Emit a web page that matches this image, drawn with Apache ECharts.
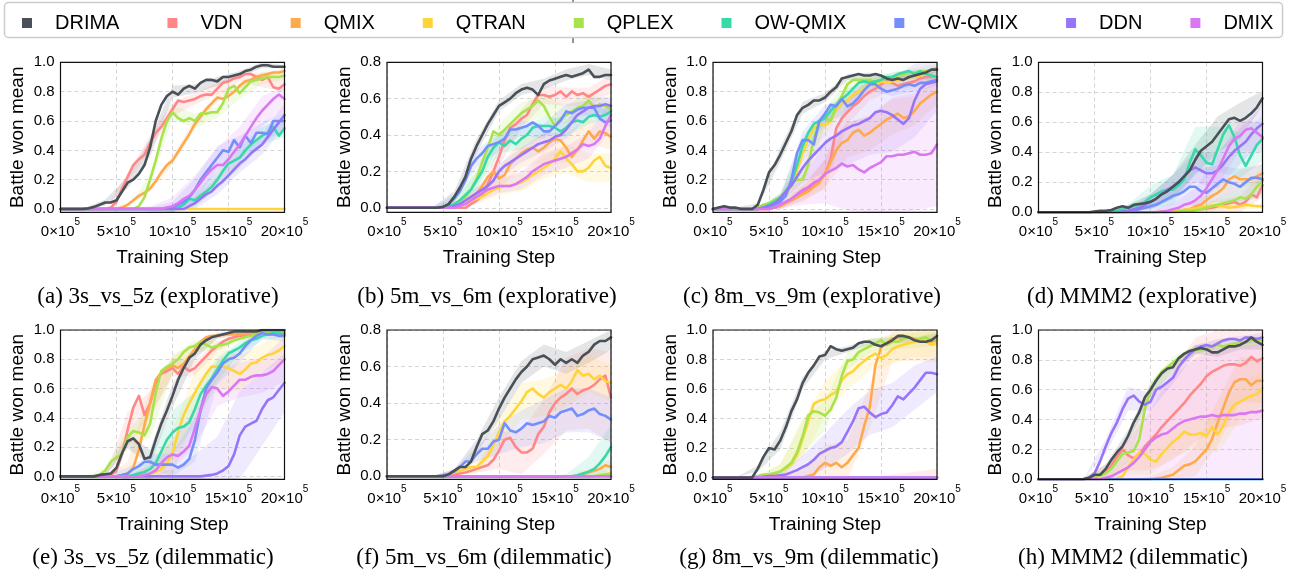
<!DOCTYPE html>
<html><head><meta charset="utf-8">
<script src="https://cdn.jsdelivr.net/npm/echarts@6/dist/echarts.min.js"></script>
<style>html,body{margin:0;padding:0;background:#fff}#c{width:1295px;height:577px}</style>
</head><body><div id="c"></div>
<script>
// ---------------- data ----------------
const methods = ['DRIMA','VDN','QMIX','QTRAN','QPLEX','OW-QMIX','CW-QMIX','DDN','DMIX'];
const colors = ['#495057','#ff8787','#ffa94d','#ffd43b','#a9e34b','#38d9a9','#748ffc','#9775fa','#da77f2'];
// training step in units of 10^5
const steps = [0,0.5,1,1.5,2,2.5,3,3.5,4,4.5, 5,5.5,6,6.5,7,7.5,8,8.5,9,9.5, 10,10.5,11,11.5,12,12.5,13,13.5,14,14.5, 15,15.5,16,16.5,17,17.5,18,18.5,19,19.5, 20];
const bandSteps = [0,2,4,6,8,10,12,14,16,18,20];
const xTicks = [0,5,10,15,20];
const yTicks10 = [0,0.2,0.4,0.6,0.8,1.0];
const yTicks08 = [0,0.2,0.4,0.6,0.8];
const panelTitles = ['(a) 3s_vs_5z (explorative)','(b) 5m_vs_6m (explorative)','(c) 8m_vs_9m (explorative)','(d) MMM2 (explorative)',
                     '(e) 3s_vs_5z (dilemmatic)','(f) 5m_vs_6m (dilemmatic)','(g) 8m_vs_9m (dilemmatic)','(h) MMM2 (dilemmatic)'];
const Z41 = [0,0,0,0,0,0,0,0,0,0, 0,0,0,0,0,0,0,0,0,0, 0,0,0,0,0,0,0,0,0,0, 0,0,0,0,0,0,0,0,0,0, 0];

// rows: DRIMA, VDN, QMIX, QTRAN, QPLEX, OW-QMIX, CW-QMIX, DDN, DMIX
const exp_3s5z = [
 [0,0,0,0,0,0.005,0.015,0.03,0.045,0.045, 0.06,0.12,0.18,0.2,0.24,0.3,0.42,0.6,0.71,0.77, 0.8,0.78,0.82,0.84,0.82,0.86,0.88,0.88,0.87,0.9, 0.9,0.91,0.92,0.94,0.95,0.97,0.98,0.98,0.97,0.97, 0.97],
 [0,0,0,0,0,0,0,0,0,0.01, 0.05,0.14,0.22,0.3,0.34,0.37,0.45,0.52,0.56,0.62, 0.68,0.74,0.73,0.74,0.75,0.77,0.78,0.78,0.82,0.86, 0.87,0.89,0.9,0.92,0.92,0.9,0.88,0.9,0.83,0.82, 0.85],
 [0,0,0,0,0,0,0,0,0,0, 0,0.01,0.03,0.06,0.09,0.11,0.14,0.19,0.25,0.3, 0.33,0.39,0.45,0.51,0.58,0.63,0.68,0.72,0.76,0.75, 0.77,0.8,0.84,0.87,0.88,0.9,0.91,0.92,0.93,0.93, 0.94],
 Z41,
 [0,0,0,0,0,0,0,0,0,0, 0,0,0,0,0.02,0.08,0.2,0.33,0.48,0.6, 0.66,0.62,0.6,0.62,0.6,0.65,0.65,0.66,0.66,0.72, 0.82,0.84,0.79,0.83,0.87,0.88,0.89,0.9,0.9,0.9, 0.91],
 [0,0,0,0,0,0,0,0,0,0, 0,0,0,0,0,0,0,0,0,0, 0,0.01,0.03,0.07,0.06,0.09,0.12,0.15,0.2,0.26, 0.31,0.33,0.35,0.4,0.44,0.47,0.5,0.52,0.56,0.5, 0.55],
 [0,0,0,0,0,0,0,0,0,0, 0,0,0,0,0,0,0,0,0,0.005, 0.01,0.03,0.05,0.08,0.13,0.2,0.25,0.3,0.35,0.4, 0.39,0.47,0.42,0.5,0.45,0.52,0.52,0.51,0.6,0.6, 0.6],
 [0,0,0,0,0,0,0,0,0,0, 0,0,0,0,0,0,0,0,0,0, 0,0,0,0.02,0.04,0.07,0.1,0.12,0.16,0.19, 0.23,0.27,0.31,0.34,0.38,0.41,0.44,0.49,0.54,0.59, 0.64],
 [0,0,0,0,0,0,0,0,0,0, 0,0,0,0,0,0,0,0,0,0.01, 0.02,0.04,0.07,0.09,0.13,0.18,0.23,0.27,0.3,0.3, 0.34,0.39,0.44,0.5,0.56,0.62,0.67,0.71,0.75,0.78, 0.75]
];
const exp_5m6m = [
 [0,0,0,0,0,0,0,0,0,0, 0.005,0.02,0.06,0.11,0.17,0.27,0.34,0.4,0.46,0.51, 0.56,0.58,0.6,0.63,0.65,0.66,0.65,0.62,0.68,0.7, 0.71,0.72,0.73,0.72,0.73,0.74,0.76,0.72,0.72,0.73, 0.73],
 [0,0,0,0,0,0,0,0,0,0, 0,0,0,0,0,0.02,0.04,0.07,0.13,0.2, 0.28,0.37,0.44,0.46,0.49,0.51,0.57,0.62,0.62,0.61, 0.62,0.64,0.61,0.64,0.62,0.63,0.61,0.63,0.65,0.67, 0.68],
 [0,0,0,0,0,0,0,0,0,0, 0,0,0,0.01,0.03,0.05,0.08,0.12,0.17,0.2, 0.16,0.18,0.24,0.27,0.3,0.32,0.33,0.31,0.33,0.36, 0.38,0.37,0.33,0.28,0.32,0.37,0.42,0.38,0.42,0.41, 0.39],
 [0,0,0,0,0,0,0,0,0,0, 0,0.005,0.01,0.02,0.03,0.04,0.05,0.06,0.08,0.1, 0.11,0.12,0.12,0.13,0.14,0.16,0.18,0.2,0.22,0.24, 0.27,0.31,0.27,0.24,0.2,0.2,0.22,0.26,0.28,0.23, 0.22],
 [0,0,0,0,0,0,0,0,0,0, 0,0.01,0.02,0.04,0.06,0.1,0.16,0.25,0.33,0.42, 0.4,0.43,0.46,0.49,0.52,0.54,0.56,0.59,0.56,0.5, 0.45,0.49,0.51,0.53,0.55,0.56,0.59,0.55,0.57,0.56, 0.54],
 [0,0,0,0,0,0,0,0,0,0, 0,0.01,0.02,0.04,0.07,0.1,0.15,0.2,0.28,0.33, 0.36,0.34,0.37,0.35,0.38,0.4,0.44,0.45,0.45,0.45, 0.44,0.42,0.44,0.47,0.48,0.47,0.5,0.51,0.5,0.51, 0.53],
 [0,0,0,0,0,0,0,0,0,0, 0,0.02,0.05,0.09,0.15,0.23,0.27,0.3,0.34,0.35, 0.36,0.38,0.43,0.43,0.44,0.45,0.47,0.45,0.42,0.42, 0.45,0.48,0.53,0.52,0.54,0.55,0.55,0.55,0.49,0.47, 0.48],
 [0,0,0,0,0,0,0,0,0,0, 0,0,0.01,0.02,0.04,0.06,0.08,0.1,0.12,0.15, 0.2,0.23,0.25,0.27,0.29,0.31,0.33,0.35,0.36,0.37, 0.39,0.4,0.43,0.47,0.51,0.53,0.55,0.56,0.56,0.57, 0.56],
 [0,0,0,0,0,0,0,0,0,0, 0,0,0,0.01,0.02,0.04,0.06,0.08,0.1,0.11, 0.12,0.12,0.12,0.13,0.15,0.17,0.2,0.22,0.24,0.25, 0.26,0.27,0.28,0.3,0.32,0.35,0.34,0.35,0.38,0.45, 0.51]
];
const exp_8m9m = [
 [0,0.01,0.02,0.01,0.01,0,0,0,0.03,0.13, 0.25,0.3,0.37,0.45,0.53,0.64,0.69,0.71,0.74,0.74, 0.76,0.8,0.83,0.89,0.9,0.91,0.92,0.91,0.91,0.92, 0.91,0.89,0.88,0.89,0.88,0.9,0.91,0.92,0.93,0.95, 0.95],
 [0,0,0,0,0,0,0,0,0,0, 0,0.01,0.02,0.04,0.06,0.08,0.11,0.14,0.16,0.19, 0.24,0.34,0.55,0.62,0.66,0.7,0.73,0.77,0.8,0.82, 0.85,0.87,0.86,0.84,0.85,0.86,0.87,0.89,0.9,0.9, 0.9],
 [0,0,0,0,0,0,0,0,0,0, 0,0.01,0.02,0.04,0.06,0.08,0.1,0.12,0.15,0.18, 0.24,0.32,0.4,0.45,0.47,0.52,0.54,0.5,0.52,0.55, 0.58,0.61,0.63,0.65,0.62,0.63,0.67,0.72,0.75,0.78, 0.8],
 [0,0,0,0,0,0,0,0,0,0.01, 0.02,0.04,0.07,0.1,0.16,0.26,0.38,0.48,0.55,0.58, 0.57,0.6,0.68,0.72,0.74,0.78,0.8,0.82,0.86,0.84, 0.87,0.86,0.87,0.88,0.88,0.9,0.9,0.91,0.92,0.91, 0.9],
 [0,0,0,0,0,0,0,0,0.01,0.03, 0.04,0.06,0.08,0.12,0.18,0.2,0.2,0.3,0.48,0.6, 0.62,0.6,0.7,0.77,0.85,0.88,0.88,0.88,0.88,0.86, 0.88,0.89,0.9,0.91,0.92,0.93,0.93,0.94,0.94,0.95, 0.96],
 [0,0,0,0,0,0,0,0,0,0.01, 0.03,0.05,0.08,0.12,0.18,0.3,0.43,0.52,0.58,0.6, 0.62,0.67,0.71,0.75,0.78,0.82,0.86,0.87,0.86,0.87, 0.88,0.9,0.9,0.92,0.93,0.94,0.92,0.94,0.92,0.91, 0.9],
 [0,0,0,0,0,0,0,0,0,0.01, 0.02,0.03,0.05,0.09,0.2,0.38,0.47,0.47,0.44,0.6, 0.65,0.71,0.7,0.75,0.7,0.72,0.76,0.81,0.85,0.85, 0.82,0.8,0.81,0.82,0.84,0.85,0.84,0.86,0.86,0.87, 0.88],
 [0,0,0,0,0,0,0,0,0,0.01, 0.02,0.04,0.07,0.12,0.16,0.22,0.28,0.33,0.37,0.41, 0.45,0.48,0.5,0.53,0.55,0.57,0.58,0.6,0.62,0.66, 0.67,0.66,0.64,0.61,0.58,0.62,0.74,0.82,0.85,0.86, 0.87],
 [0,0,0,0,0,0,0,0,0,0, 0,0.01,0.03,0.05,0.07,0.1,0.13,0.15,0.18,0.2, 0.24,0.26,0.28,0.31,0.29,0.3,0.27,0.25,0.28,0.3, 0.32,0.36,0.36,0.37,0.37,0.38,0.39,0.37,0.37,0.38, 0.44]
];
const exp_MMM2 = [
 [0,0,0,0,0,0,0,0,0,0, 0.005,0.01,0.01,0.015,0.03,0.04,0.03,0.05,0.055,0.06, 0.07,0.09,0.12,0.14,0.17,0.2,0.24,0.28,0.35,0.41, 0.44,0.47,0.52,0.57,0.62,0.63,0.61,0.63,0.66,0.7, 0.76],
 [0,0,0,0,0,0,0,0,0,0, 0,0,0,0,0,0,0,0,0,0, 0,0,0,0,0,0,0.005,0.01,0.015,0.02, 0.025,0.03,0.04,0.05,0.06,0.07,0.05,0.07,0.12,0.1, 0.18],
 [0,0,0,0,0,0,0,0,0,0, 0,0,0,0,0,0,0,0,0,0, 0,0,0,0,0.005,0.01,0.015,0.02,0.04,0.05, 0.08,0.11,0.13,0.16,0.22,0.24,0.22,0.22,0.22,0.24, 0.26],
 [0,0,0,0,0,0,0,0,0,0, 0,0,0,0,0,0,0,0,0,0, 0,0,0.005,0.005,0.01,0.01,0.015,0.02,0.025,0.03, 0.04,0.045,0.045,0.04,0.03,0.035,0.04,0.05,0.045,0.04, 0.04],
 [0,0,0,0,0,0,0,0,0,0, 0,0,0,0,0,0,0,0,0,0, 0,0,0,0,0,0.005,0.01,0.01,0.015,0.02, 0.03,0.04,0.05,0.06,0.07,0.08,0.1,0.09,0.12,0.17, 0.21],
 [0,0,0,0,0,0,0,0,0,0, 0,0,0,0.005,0.01,0.02,0.03,0.04,0.05,0.07, 0.1,0.12,0.14,0.15,0.15,0.18,0.22,0.33,0.42,0.38, 0.33,0.32,0.42,0.52,0.58,0.5,0.38,0.31,0.38,0.45, 0.49],
 [0,0,0,0,0,0,0,0,0,0, 0,0,0,0,0,0,0.005,0.01,0.02,0.03, 0.04,0.05,0.07,0.09,0.11,0.12,0.14,0.17,0.17,0.14, 0.13,0.16,0.19,0.22,0.2,0.19,0.17,0.2,0.23,0.23, 0.22],
 [0,0,0,0,0,0,0,0,0,0, 0,0,0,0,0,0.005,0.01,0.02,0.03,0.05, 0.07,0.09,0.12,0.15,0.17,0.2,0.24,0.28,0.3,0.28, 0.26,0.26,0.28,0.32,0.37,0.41,0.44,0.47,0.52,0.56, 0.59],
 [0,0,0,0,0,0,0,0,0,0, 0,0,0,0,0,0,0,0,0,0, 0,0,0.005,0.01,0.02,0.03,0.05,0.06,0.08,0.11, 0.16,0.22,0.28,0.36,0.44,0.49,0.51,0.55,0.56,0.53, 0.5]
];
const dil_3s5z = [
 [0,0,0,0,0,0,0,0.01,0.015,0.02, 0.06,0.16,0.24,0.26,0.22,0.12,0.13,0.25,0.36,0.45, 0.55,0.66,0.74,0.81,0.84,0.9,0.93,0.95,0.96,0.97, 0.98,0.99,0.99,0.99,0.99,0.99,1.0,1.0,1.0,1.0, 1.0],
 [0,0,0,0,0,0,0,0,0,0.01, 0.04,0.15,0.32,0.47,0.55,0.42,0.5,0.64,0.7,0.72, 0.74,0.7,0.75,0.72,0.74,0.78,0.82,0.86,0.89,0.92, 0.94,0.95,0.96,0.96,0.97,0.97,0.98,0.98,0.98,0.98, 0.98],
 [0,0,0,0,0,0,0,0,0,0, 0,0.01,0.02,0.06,0.18,0.35,0.5,0.66,0.71,0.74, 0.76,0.74,0.77,0.82,0.87,0.92,0.95,0.96,0.96,0.97, 0.97,0.97,0.97,0.98,0.98,0.98,0.98,0.98,0.98,0.98, 0.98],
 [0,0,0,0,0,0,0,0,0,0, 0,0,0,0,0,0.01,0.02,0.03,0.05,0.09, 0.16,0.3,0.42,0.5,0.57,0.64,0.7,0.75,0.75,0.75, 0.74,0.72,0.7,0.73,0.77,0.78,0.81,0.83,0.84,0.86, 0.89],
 [0,0,0,0,0,0,0,0.01,0.04,0.1, 0.13,0.15,0.27,0.31,0.3,0.28,0.36,0.57,0.72,0.75, 0.77,0.8,0.85,0.88,0.89,0.92,0.9,0.88,0.89,0.9, 0.91,0.93,0.94,0.95,0.96,0.97,0.98,0.98,0.98,0.99, 0.99],
 [0,0,0,0,0,0,0,0,0,0, 0,0,0,0.01,0.02,0.03,0.05,0.09,0.17,0.25, 0.3,0.33,0.34,0.37,0.46,0.56,0.62,0.67,0.73,0.79, 0.84,0.86,0.88,0.91,0.93,0.94,0.96,0.97,0.98,0.98, 0.97],
 [0,0,0,0,0,0,0,0,0,0, 0,0.01,0.02,0.05,0.07,0.1,0.1,0.08,0.08,0.08, 0.08,0.06,0.08,0.12,0.25,0.45,0.6,0.66,0.71,0.77, 0.8,0.81,0.84,0.89,0.93,0.96,0.98,0.97,0.97,0.96, 0.96],
 [0,0,0,0,0,0,0,0,0,0, 0,0,0,0,0,0,0,0,0,0, 0,0,0,0,0,0,0.005,0.01,0.02,0.04, 0.07,0.15,0.28,0.34,0.36,0.38,0.46,0.52,0.54,0.59, 0.64],
 [0,0,0,0,0,0,0,0,0,0, 0,0,0,0,0,0.01,0.02,0.04,0.09,0.13, 0.15,0.14,0.17,0.21,0.33,0.45,0.56,0.61,0.6,0.55, 0.58,0.62,0.66,0.66,0.68,0.69,0.69,0.7,0.72,0.76, 0.8]
];
const dil_5m6m = [
 [0,0,0,0,0,0,0,0,0,0, 0,0.01,0.03,0.05,0.05,0.08,0.16,0.23,0.25,0.3, 0.37,0.43,0.48,0.53,0.57,0.6,0.64,0.65,0.66,0.64, 0.61,0.64,0.62,0.64,0.62,0.66,0.68,0.72,0.74,0.74, 0.76],
 [0,0,0,0,0,0,0,0,0,0, 0,0.005,0.01,0.015,0.02,0.03,0.04,0.05,0.06,0.09, 0.14,0.2,0.21,0.16,0.13,0.13,0.15,0.23,0.27,0.35, 0.4,0.43,0.45,0.48,0.45,0.47,0.48,0.5,0.53,0.55, 0.43],
 [0,0,0,0,0,0,0,0,0,0, 0,0,0,0,0,0,0,0,0,0, 0,0,0,0,0,0,0,0,0,0, 0,0,0,0,0,0.01,0.02,0.03,0.04,0.06, 0.05],
 [0,0,0,0,0,0,0,0,0,0, 0.005,0.01,0.02,0.03,0.04,0.05,0.05,0.08,0.11,0.17, 0.24,0.3,0.33,0.37,0.41,0.46,0.48,0.45,0.43,0.46, 0.48,0.5,0.48,0.52,0.58,0.55,0.56,0.53,0.55,0.52, 0.51],
 [0,0,0,0,0,0,0,0,0,0, 0,0,0,0,0,0,0,0,0,0, 0,0,0,0,0,0,0,0,0,0, 0,0,0,0,0,0,0,0,0.005,0.01, 0.015],
 [0,0,0,0,0,0,0,0,0,0, 0,0,0,0,0,0,0,0,0,0, 0,0,0,0,0,0,0,0,0,0, 0,0,0,0,0.005,0.015,0.025,0.04,0.07,0.11, 0.16],
 [0,0,0,0,0,0,0,0,0,0, 0.005,0.01,0.025,0.05,0.08,0.08,0.12,0.15,0.15,0.19, 0.2,0.29,0.25,0.24,0.26,0.29,0.28,0.29,0.3,0.33, 0.32,0.35,0.36,0.37,0.33,0.34,0.36,0.37,0.34,0.33, 0.31],
 Z41,
 Z41
];
const dil_8m9m = [
 [0,0,0,0,0,0,0,0,0.06,0.14, 0.2,0.19,0.25,0.34,0.45,0.53,0.64,0.71,0.76,0.82, 0.83,0.89,0.87,0.86,0.87,0.88,0.91,0.92,0.92,0.9, 0.89,0.91,0.93,0.96,0.96,0.95,0.93,0.92,0.92,0.93, 0.96],
 Z41,
 [0,0,0,0,0,0,0,0,0,0, 0,0,0,0,0,0,0,0.01,0.02,0.07, 0.1,0.08,0.1,0.07,0.1,0.15,0.2,0.35,0.48,0.76, 0.88,0.91,0.94,0.95,0.95,0.95,0.94,0.93,0.92,0.92, 0.93],
 [0,0,0,0,0,0,0,0,0.005,0.01, 0.015,0.02,0.04,0.06,0.09,0.15,0.26,0.38,0.5,0.52, 0.53,0.56,0.58,0.66,0.7,0.72,0.76,0.79,0.82,0.84, 0.81,0.83,0.87,0.89,0.9,0.91,0.92,0.93,0.92,0.9, 0.91],
 [0,0,0,0,0,0,0,0.005,0.01,0.02, 0.02,0.03,0.04,0.07,0.1,0.17,0.28,0.42,0.45,0.44, 0.42,0.46,0.54,0.69,0.79,0.8,0.85,0.87,0.89,0.91, 0.93,0.9,0.92,0.92,0.94,0.95,0.93,0.94,0.95,0.93, 0.94],
 Z41,
 Z41,
 [0,0,0,0,0,0,0,0,0,0.005, 0.01,0.01,0.015,0.02,0.035,0.05,0.07,0.09,0.12,0.16, 0.18,0.2,0.21,0.24,0.31,0.38,0.47,0.48,0.44,0.41, 0.43,0.44,0.49,0.55,0.53,0.57,0.61,0.66,0.71,0.71, 0.7],
 Z41
];
const dil_MMM2 = [
 [0,0,0,0,0,0,0,0,0,0.01, 0.03,0.03,0.07,0.13,0.18,0.22,0.29,0.38,0.45,0.55, 0.6,0.66,0.71,0.74,0.75,0.81,0.84,0.86,0.87,0.88, 0.87,0.85,0.85,0.87,0.89,0.89,0.9,0.92,0.95,0.92, 0.9],
 [0,0,0,0,0,0,0,0,0,0.005, 0.015,0.03,0.05,0.09,0.15,0.2,0.16,0.14,0.17,0.22, 0.26,0.3,0.35,0.39,0.43,0.47,0.51,0.56,0.6,0.64, 0.69,0.72,0.74,0.76,0.77,0.77,0.76,0.78,0.82,0.79, 0.81],
 [0,0,0,0,0,0,0,0,0,0, 0,0,0,0,0,0,0,0,0,0, 0,0.005,0.01,0.02,0.03,0.06,0.09,0.1,0.12,0.16, 0.2,0.27,0.38,0.48,0.58,0.65,0.67,0.67,0.63,0.66, 0.66],
 [0,0,0,0,0,0,0,0,0,0, 0,0,0,0,0.005,0.02,0.08,0.13,0.18,0.17, 0.13,0.12,0.17,0.21,0.25,0.28,0.32,0.3,0.3,0.31, 0.29,0.35,0.3,0.36,0.45,0.5,0.52,0.54,0.56,0.57, 0.61],
 [0,0,0,0,0,0,0,0,0,0, 0.01,0.025,0.04,0.07,0.12,0.17,0.18,0.19,0.27,0.47, 0.6,0.67,0.72,0.75,0.78,0.81,0.84,0.86,0.87,0.87, 0.88,0.89,0.9,0.89,0.9,0.91,0.91,0.92,0.93,0.93, 0.93],
 Z41,
 Z41,
 [0,0,0,0,0,0,0,0,0,0.01, 0.04,0.12,0.22,0.31,0.38,0.47,0.54,0.56,0.52,0.5, 0.52,0.6,0.62,0.65,0.68,0.75,0.8,0.84,0.87,0.89, 0.9,0.89,0.91,0.93,0.94,0.94,0.93,0.95,0.95,0.94, 0.95],
 [0,0,0,0,0,0,0,0,0,0, 0,0,0.01,0.02,0.04,0.06,0.08,0.11,0.15,0.2, 0.25,0.28,0.3,0.31,0.34,0.37,0.39,0.4,0.41,0.42, 0.42,0.43,0.42,0.43,0.43,0.43,0.44,0.44,0.45,0.45, 0.46]
];

// shaded spread (half-width) around each mean at bandSteps; null = no visible band
const band_exp_3s5z = [
 [0,0,0.02,0.04,0.06,0.04,0.03,0.03,0.02,0.02,0.01],
 [0,0,0,0.03,0.05,0.05,0.04,0.04,0.03,0.05,0.05],
 [0,0,0,0.01,0.02,0.03,0.03,0.03,0.02,0.02,0.02],
 null,
 [0,0,0,0,0.04,0.05,0.05,0.04,0.04,0.04,0.03],
 [0,0,0,0,0,0.02,0.05,0.06,0.07,0.06,0.06],
 [0,0,0,0,0.01,0.04,0.08,0.08,0.08,0.07,0.06],
 [0,0,0,0,0,0.01,0.04,0.06,0.06,0.07,0.08],
 [0,0,0,0,0.02,0.06,0.1,0.12,0.12,0.1,0.08]
];
const band_exp_5m6m = [
 [0,0,0,0.03,0.04,0.03,0.03,0.03,0.03,0.03,0.03],
 [0,0,0,0,0.02,0.05,0.05,0.05,0.05,0.05,0.05],
 [0,0,0,0,0.03,0.06,0.08,0.08,0.08,0.07,0.07],
 [0,0,0,0.01,0.03,0.04,0.05,0.06,0.08,0.08,0.08],
 [0,0,0,0.02,0.05,0.06,0.06,0.06,0.05,0.04,0.04],
 [0,0,0,0.02,0.05,0.06,0.06,0.05,0.05,0.04,0.04],
 [0,0,0,0.02,0.05,0.05,0.04,0.04,0.04,0.04,0.04],
 [0,0,0,0.01,0.03,0.04,0.04,0.05,0.05,0.05,0.05],
 [0,0,0,0.01,0.03,0.04,0.05,0.06,0.06,0.07,0.08]
];
const band_exp_8m9m = [
 [0,0,0.01,0.05,0.04,0.03,0.02,0.02,0.02,0.02,0.02],
 [0,0,0,0.02,0.05,0.1,0.08,0.06,0.05,0.04,0.04],
 [0,0,0,0.02,0.05,0.1,0.12,0.12,0.12,0.1,0.08],
 [0,0,0,0.03,0.06,0.06,0.05,0.04,0.03,0.03,0.03],
 [0,0,0,0.03,0.06,0.06,0.04,0.03,0.03,0.03,0.03],
 [0,0,0,0.03,0.06,0.05,0.04,0.03,0.03,0.03,0.03],
 [0,0,0,0.03,0.06,0.06,0.05,0.04,0.04,0.04,0.04],
 [0,0,0,0.03,0.1,0.2,0.25,0.25,0.25,0.25,0.2],
 [0,0,0,0.03,0.1,0.2,0.3,0.35,0.4,0.4,0.42]
];
const band_exp_MMM2 = [
 [0,0,0,0,0.02,0.05,0.08,0.1,0.12,0.12,0.05],
 [0,0,0,0,0,0,0,0.02,0.04,0.06,0.08],
 [0,0,0,0,0,0,0.01,0.03,0.05,0.06,0.06],
 [0,0,0,0,0,0,0.01,0.02,0.02,0.02,0.02],
 [0,0,0,0,0,0,0.01,0.02,0.04,0.06,0.08],
 [0,0,0,0,0.02,0.08,0.1,0.15,0.15,0.15,0.15],
 [0,0,0,0,0.01,0.05,0.08,0.12,0.12,0.12,0.1],
 [0,0,0,0,0.02,0.05,0.08,0.1,0.12,0.12,0.12],
 [0,0,0,0,0,0.01,0.04,0.08,0.1,0.1,0.1]
];
const band_dil_3s5z = [
 [0,0,0.01,0.05,0.05,0.08,0.04,0.02,0.01,0.01,0.01],
 [0,0,0.01,0.12,0.08,0.06,0.05,0.03,0.02,0.02,0.02],
 [0,0,0,0.08,0.1,0.06,0.04,0.02,0.02,0.02,0.02],
 [0,0,0,0,0.06,0.15,0.15,0.15,0.12,0.1,0.1],
 [0,0,0.02,0.05,0.1,0.06,0.04,0.03,0.02,0.02,0.01],
 [0,0,0,0.02,0.08,0.15,0.12,0.08,0.04,0.03,0.02],
 [0,0,0,0.04,0.05,0.08,0.15,0.08,0.06,0.04,0.04],
 [0,0,0,0,0,0.05,0.15,0.25,0.3,0.25,0.2],
 [0,0,0,0,0.06,0.1,0.12,0.12,0.12,0.12,0.15]
];
const band_dil_5m6m = [
 [0,0,0,0.01,0.04,0.06,0.06,0.06,0.06,0.06,0.07],
 [0,0,0,0,0.02,0.1,0.12,0.15,0.2,0.22,0.25],
 [0,0,0,0,0,0,0,0,0,0.02,0.04],
 [0,0,0,0.01,0.04,0.08,0.1,0.1,0.1,0.1,0.1],
 [0,0,0,0,0,0,0,0,0,0.01,0.02],
 [0,0,0,0,0,0,0,0,0.01,0.08,0.12],
 [0,0,0,0.01,0.04,0.08,0.1,0.12,0.12,0.12,0.12],
 null,
 null
];
const band_dil_8m9m = [
 [0,0,0.02,0.06,0.04,0.03,0.02,0.02,0.02,0.02,0.02],
 [0,0,0,0,0,0,0,0,0.02,0.04,0.06],
 [0,0,0,0,0.05,0.12,0.15,0.15,0.15,0.15,0.15],
 [0,0,0,0.05,0.12,0.12,0.1,0.1,0.1,0.1,0.1],
 [0,0,0,0.05,0.12,0.1,0.06,0.05,0.05,0.05,0.05],
 null,
 null,
 [0,0,0,0.02,0.08,0.12,0.15,0.15,0.15,0.15,0.12],
 null
];
const band_dil_MMM2 = [
 [0,0,0.01,0.03,0.04,0.04,0.03,0.03,0.03,0.03,0.03],
 [0,0,0,0.05,0.1,0.2,0.3,0.35,0.4,0.4,0.4],
 [0,0,0,0,0,0.02,0.05,0.1,0.15,0.15,0.15],
 [0,0,0,0.02,0.05,0.1,0.1,0.1,0.12,0.12,0.12],
 [0,0,0,0.03,0.06,0.05,0.04,0.03,0.03,0.03,0.03],
 null,
 null,
 [0,0,0,0.05,0.08,0.06,0.04,0.03,0.03,0.03,0.03],
 [0,0,0,0.05,0.2,0.3,0.35,0.4,0.45,0.45,0.45]
];

const panelMeans = [exp_3s5z, exp_5m6m, exp_8m9m, exp_MMM2, dil_3s5z, dil_5m6m, dil_8m9m, dil_MMM2];
const panelBands = [band_exp_3s5z, band_exp_5m6m, band_exp_8m9m, band_exp_MMM2, band_dil_3s5z, band_dil_5m6m, band_dil_8m9m, band_dil_MMM2];
const yMaxes = [1, 0.8, 1, 1, 1, 0.8, 1, 1];
const yMins = [-0.022, -0.025, -0.022, 0, -0.02, -0.017, -0.012, 0];

// ---------------- layout ----------------
const colLeft = [60.5, 387, 713, 1038.5];
const colWidth = 224;
const rowTop = [62.3, 330];
const rowHeight = [150, 149.3];
const titleCx = [158, 487, 812, 1142, 153, 484, 809, 1133];
const titleCy = [297, 558];
const SANS = 'Liberation Sans';

const chart = echarts.init(document.getElementById('c'), null, {renderer: 'canvas'});
const grids = [], xAxes = [], yAxes = [], series = [], graphics = [];

panelMeans.forEach((means, p) => {
  const r = Math.floor(p / 4), c = p % 4;
  grids.push({left: colLeft[c], top: rowTop[r], width: colWidth, height: rowHeight[r], show: false});
  xAxes.push({type: 'value', gridIndex: p, min: 0, max: 20, interval: 5,
    name: 'Training Step', nameLocation: 'middle', nameGap: 26,
    nameTextStyle: {fontSize: 19, fontFamily: SANS, color: '#000'},
    axisLine: {show: false}, axisTick: {show: false},
    axisLabel: {margin: 11, color: '#000', fontFamily: SANS,
      formatter: v => '{b|' + v + '×10}{s|5}',
      rich: {b: {fontSize: 15, lineHeight: 18, fontFamily: SANS, color: '#000'},
             s: {fontSize: 10, lineHeight: 12, fontFamily: SANS, color: '#000', padding: [0, 0, 21, 0]}}},
    splitLine: {show: true, lineStyle: {color: '#d4d4d4', width: 1, type: [4, 3]}}});
  const yt = yMaxes[p] === 1 ? yTicks10 : yTicks08;
  yAxes.push({type: 'value', gridIndex: p, min: yMins[p], max: yMaxes[p],
    name: 'Battle won mean', nameLocation: 'middle', nameGap: 33,
    nameTextStyle: {fontSize: 19, fontFamily: SANS, color: '#000'},
    axisLine: {show: false},
    axisTick: {show: false, customValues: yt},
    axisLabel: {customValues: yt, margin: 6, fontSize: 15, fontFamily: SANS, color: '#000', formatter: v => v.toFixed(1)},
    splitLine: {show: true, lineStyle: {color: '#d4d4d4', width: 1, type: [4, 3]}}});

  // bands
  const bands = panelBands[p];
  const items = [];
  bands.forEach((b, k) => { if (b) items.push(k); });
  series.push({type: 'custom', xAxisIndex: p, yAxisIndex: p, clip: true, silent: true, z: 1,
    data: items.map(() => [10, 0.1]),
    renderItem: (params, api) => {
      const k = items[params.dataIndex];
      const m = means[k], s = bands[k];
      const up = [], lo = [];
      bandSteps.forEach((x, j) => {
        const mv = m[steps.indexOf(x)];
        up.push(api.coord([x, Math.min(mv + s[j], yMaxes[p])]));
        lo.push(api.coord([x, Math.max(mv - s[j], yMins[p])]));
      });
      return {type: 'polygon', shape: {points: up.concat(lo.reverse())},
              style: {fill: colors[k], opacity: 0.15}};
    }});

  // lines: others first, DRIMA on top
  const order = [1,2,3,4,5,6,7,8,0];
  order.forEach(k => {
    series.push({type: 'line', name: methods[k], xAxisIndex: p, yAxisIndex: p,
      data: steps.map((x, i) => [x, means[k][i]]),
      showSymbol: false, symbol: 'none', silent: true, z: 3,
      lineStyle: {width: 2.6, color: colors[k], join: 'round', cap: 'round'},
      itemStyle: {color: colors[k]}});
  });

  // axes frame (drawn above the data, like matplotlib spines)
  graphics.push({type: 'rect', z: 100, silent: true,
    shape: {x: colLeft[c], y: rowTop[r], width: colWidth, height: rowHeight[r]},
    style: {fill: 'none', stroke: '#111', lineWidth: 1.2}});

  graphics.push({type: 'text', x: titleCx[p], y: titleCy[r], z: 10,
    style: {text: panelTitles[p], font: '23px "Liberation Serif"', fill: '#000',
            align: 'center', verticalAlign: 'middle', textAlign: 'center', textVerticalAlign: 'middle'}});
});

// legend frame and the thin stray line behind it
graphics.unshift({type: 'line', shape: {x1: 573, y1: 0, x2: 573, y2: 43}, style: {stroke: '#222', lineWidth: 1}, z: 0});
graphics.push({type: 'rect', shape: {x: 4.5, y: 2.5, width: 1278, height: 35, r: 4},
  style: {fill: '#fff', stroke: '#cccccc', lineWidth: 1.5}, z: 1});

chart.setOption({
  animation: false,
  backgroundColor: '#fff',
  grid: grids, xAxis: xAxes, yAxis: yAxes,
  legend: {data: methods, left: 17, top: 8, itemWidth: 10, itemHeight: 10, itemGap: 48, icon: 'rect',
    selectedMode: false, z: 20,
    textStyle: {fontSize: 20, fontFamily: SANS, color: '#000', padding: [0, 0, 0, 18]}},
  graphic: {elements: graphics},
  series: series
});
</script></body></html>
